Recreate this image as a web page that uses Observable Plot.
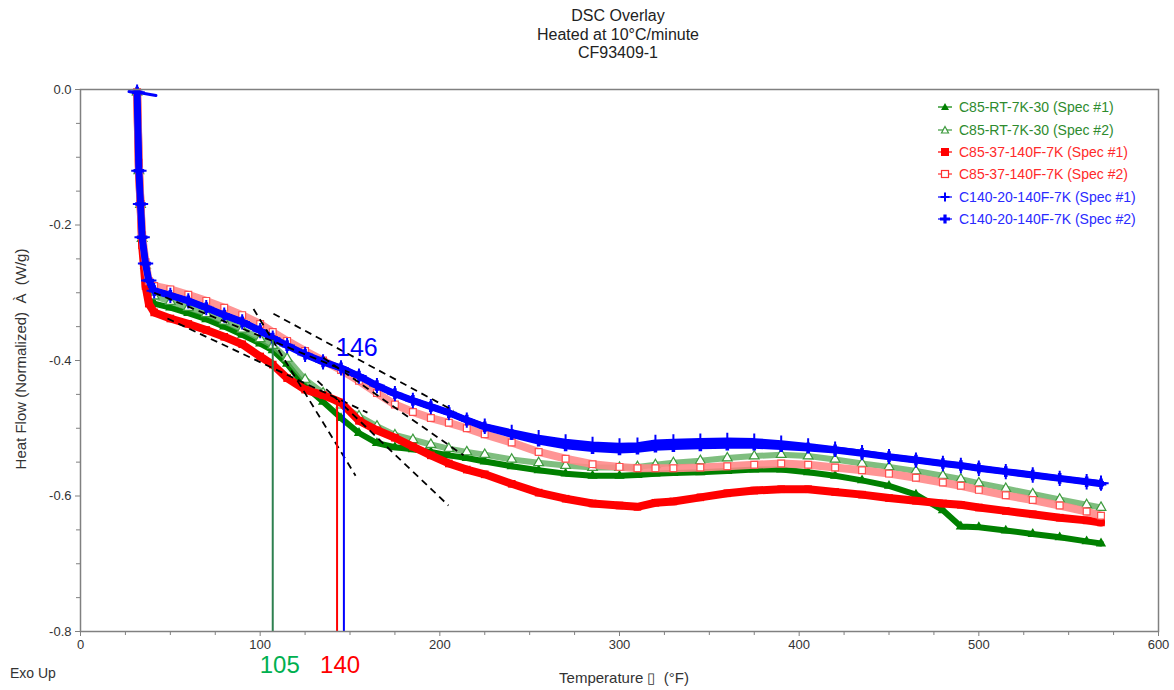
<!DOCTYPE html>
<html><head><meta charset="utf-8">
<script src="https://cdn.jsdelivr.net/npm/d3@7"></script>
<script src="https://cdn.jsdelivr.net/npm/@observablehq/plot@0.6"></script>
<style>
body{margin:0;background:#fff;font-family:"Liberation Sans",Arial,sans-serif;}
#wrap{position:relative;width:1174px;height:690px;overflow:hidden;background:#fff}
#title{position:absolute;left:468px;top:7px;width:300px;text-align:center;font-size:16px;line-height:18.5px;color:#222;}
#chart{position:absolute;left:0;top:66px;}
#legend{position:absolute;left:937px;top:96px;font-size:14px;}
#legend .row{height:22.4px;display:flex;align-items:center;white-space:nowrap}
#legend svg{margin-right:6px}
#exo{position:absolute;left:10px;top:665px;font-size:14px;color:#333}
#xlabel{position:absolute;left:474px;width:300px;top:669px;text-align:center;font-size:15px;color:#333;white-space:pre}
#ylabel{position:absolute;left:20px;top:359px;width:0;height:0;}
#ylabel span{position:absolute;transform:translate(-50%,-50%) rotate(-90deg);white-space:pre;font-size:15px;color:#333}
</style></head>
<body>
<div id="wrap">
<div id="title">DSC Overlay<br>Heated at 10°C/minute<br>CF93409-1</div>
<div id="chart"></div>
<div id="legend"></div>
<div id="exo">Exo Up</div>
<div id="xlabel"></div>
<div id="ylabel"><span></span></div>
</div>
<script>
// ---- data ----
const temps = [31.5,32.5,33.4,34.3,36.2,38,41,50,60,70,80,90,100,107,115,125,135,145,155,165,175,185,195,205,215,225,240,255,270,285,300,310,320,330,345,360,375,390,405,420,435,450,465,480,490,500,515,530,545,560,568];

const greenSpec1 = [-0.004,-0.12,-0.17,-0.22,-0.262,-0.300,
 -0.316,-0.322,-0.330,-0.339,-0.350,-0.362,-0.375,-0.385,
 -0.405,-0.438,-0.461,-0.485,-0.507,-0.522,-0.528,-0.531,-0.535,-0.540,-0.544,-0.549,
 -0.556,-0.562,-0.567,-0.570,-0.570,-0.569,-0.567,-0.566,-0.565,-0.563,-0.561,-0.561,
 -0.565,-0.570,-0.577,-0.585,-0.598,-0.621,-0.645,-0.646,-0.651,-0.656,-0.661,-0.667,-0.670];

const greenSpec2 = [-0.004,-0.12,-0.17,-0.22,-0.26,-0.29,
 -0.305,-0.313,-0.322,-0.331,-0.342,-0.354,-0.368,-0.378,
 -0.397,-0.428,-0.448,-0.466,-0.482,-0.497,-0.510,-0.517,-0.524,-0.530,-0.535,-0.539,
 -0.546,-0.551,-0.555,-0.558,-0.558,-0.557,-0.554,-0.551,-0.548,-0.544,-0.541,-0.539,
 -0.541,-0.546,-0.552,-0.557,-0.563,-0.570,-0.575,-0.581,-0.589,-0.597,-0.605,-0.613,-0.617];

const redSpec1 = [-0.004,-0.12,-0.169,-0.23,-0.29,-0.316,
 -0.329,-0.338,-0.346,-0.355,-0.365,-0.376,-0.394,-0.406,
 -0.426,-0.443,-0.451,-0.462,-0.489,-0.503,-0.514,-0.527,-0.540,-0.552,-0.561,-0.568,
 -0.582,-0.595,-0.604,-0.611,-0.614,-0.616,-0.610,-0.608,-0.602,-0.596,-0.592,-0.590,
 -0.590,-0.594,-0.598,-0.603,-0.607,-0.611,-0.613,-0.617,-0.622,-0.627,-0.632,-0.636,-0.639];

const redSpec2 = [-0.004,-0.108,-0.169,-0.215,-0.255,-0.283,
 -0.290,-0.295,-0.303,-0.312,-0.322,-0.333,-0.346,-0.358,
 -0.371,-0.386,-0.400,-0.414,-0.430,-0.448,-0.465,-0.476,-0.485,-0.492,-0.500,-0.509,
 -0.521,-0.535,-0.545,-0.553,-0.557,-0.559,-0.559,-0.559,-0.558,-0.556,-0.554,-0.552,
 -0.554,-0.558,-0.562,-0.567,-0.573,-0.580,-0.585,-0.591,-0.599,-0.606,-0.614,-0.623,-0.629];

const blueSpec1 = [-0.004,-0.12,-0.169,-0.218,-0.257,-0.282,
 -0.297,-0.304,-0.312,-0.322,-0.333,-0.343,-0.356,-0.367,
 -0.378,-0.391,-0.402,-0.411,-0.423,-0.437,-0.449,-0.459,-0.468,-0.477,-0.488,-0.497,
 -0.506,-0.514,-0.520,-0.524,-0.526,-0.525,-0.521,-0.520,-0.519,-0.518,-0.519,-0.522,
 -0.526,-0.531,-0.536,-0.542,-0.547,-0.552,-0.555,-0.559,-0.564,-0.569,-0.574,-0.579,-0.581];

const blueSpec2 = [-0.004,-0.12,-0.169,-0.218,-0.257,-0.282,
 -0.297,-0.304,-0.312,-0.322,-0.333,-0.343,-0.356,-0.367,
 -0.378,-0.391,-0.402,-0.411,-0.423,-0.437,-0.449,-0.459,-0.468,-0.477,-0.488,-0.498,
 -0.509,-0.519,-0.526,-0.530,-0.532,-0.531,-0.528,-0.527,-0.526,-0.525,-0.525,-0.527,
 -0.529,-0.532,-0.537,-0.542,-0.547,-0.552,-0.555,-0.559,-0.564,-0.569,-0.574,-0.579,-0.582];

// short stub of the blue run at the very start
const blueStubTemps = [27, 31.5, 42];
const blueStubValues = [-0.003, -0.004, -0.009];

const seriesNames = ["C85-RT-7K-30 (Spec #1)","C85-RT-7K-30 (Spec #2)","C85-37-140F-7K (Spec #1)","C85-37-140F-7K (Spec #2)","C140-20-140F-7K (Spec #1)","C140-20-140F-7K (Spec #2)"];

// tangent (onset construction) lines: start temp, start value, end temp, end value
const tangentT1 = [41, 48.4, 107.4, 96.3, 131.9, 135.2];
const tangentV1 = [-0.300, -0.338, -0.331, -0.324, -0.430, -0.396];
const tangentT2 = [150, 159.7, 207.6, 153.1, 204.8, 213.2];
const tangentV2 = [-0.418, -0.477, -0.474, -0.570, -0.614, -0.540];

// onset markers
const onsetT = [107, 142.8, 146.6];
const onsetTop = [-0.370, -0.459, -0.410];
const onsetLabels = ["105", "140", "146"];

const xMajorTicks = [0,100,200,300,400,500,600];
const xMinorTicks = [25,50,75,125,150,175,225,250,275,325,350,375,425,450,475,525,550,575];
const yMajorTicks = [0,-0.2,-0.4,-0.6,-0.8];
const yMinorTicks = [-0.05,-0.1,-0.15,-0.25,-0.3,-0.35,-0.45,-0.5,-0.55,-0.65,-0.7,-0.75];

const xLabel = "Temperature \u25AF  (°F)";
const yLabel = "Heat Flow (Normalized)  \u00C0  (W/g)";

// ---- styles ----
const styles = [
  {line:"#008000", lw:6, lineOp:1, symbol:"triangle", fill:"#008000", stroke:"none", r:3.8},
  {line:"#5fae5f", lw:6, lineOp:0.8, symbol:"triangle", fill:"white", stroke:"#3d9a3d", r:3.6},
  {line:"#ff0000", lw:8, lineOp:1, symbol:"square", fill:"#ff0000", stroke:"none", r:4.3},
  {line:"#ff8a8a", lw:8, lineOp:0.9, symbol:"square", fill:"white", stroke:"#ff5050", r:3.8},
  {line:"#0000ff", lw:6, lineOp:1, symbol:"plus", fill:"none", stroke:"#0000ff", r:5, sw:2},
  {line:"#0000ff", lw:7, lineOp:1, symbol:"cross", fill:"#0000ff", stroke:"none", r:4.5},
];
const seriesValues = [greenSpec1, greenSpec2, redSpec1, redSpec2, blueSpec1, blueSpec2];

const marks = [];
seriesValues.forEach((vals, k) => {
  const rows = temps.map((t, i) => ({T: t, v: vals[i]}));
  const st = styles[k];
  if (k === 5) {
    const stub = blueStubTemps.map((t, i) => ({T: t, v: blueStubValues[i]}));
    marks.push(Plot.line(stub, {x:"T", y:"v", stroke:st.line, strokeWidth:3}));
  }
  marks.push(Plot.line(rows, {x:"T", y:"v", stroke:st.line, strokeWidth:st.lw, strokeOpacity:st.lineOp, curve:"linear"}));
  marks.push(Plot.dot(rows, {x:"T", y:"v", symbol:st.symbol, r:st.r, fill:st.fill, stroke:st.stroke, strokeWidth:st.sw || 1.2}));
});

const tangents = tangentT1.map((t, i) => ({x1:t, y1:tangentV1[i], x2:tangentT2[i], y2:tangentV2[i]}));
const onsets = onsetT.map((t, i) => ({T:t, top:onsetTop[i], label:onsetLabels[i]}));
const ruleColors = ["#2e8050", "#ff0000", "#0000ff"];
const labelColors = ["#00b050", "#ff0000", "#0000ff"];
const labelFont = "'Liberation Sans', Arial, sans-serif";

const chart = Plot.plot({
  width:1174, height:624,
  marginTop:23, marginBottom:59, marginLeft:80, marginRight:16,
  x:{domain:[0,600]},
  y:{domain:[-0.8,0]},
  style:{fontFamily:"'Liberation Sans', Arial, sans-serif", fontSize:"13px", color:"#333", background:"white", overflow:"visible"},
  marks:[
    ...marks,
    Plot.link(tangents, {x1:"x1", y1:"y1", x2:"x2", y2:"y2", stroke:"black", strokeWidth:1.8, strokeDasharray:"7,5"}),
    ...onsets.map((o, i) => Plot.ruleX([o], {x:"T", y1:-0.8, y2:"top", stroke:ruleColors[i], strokeWidth:2})),
    Plot.text([onsets[0]], {x:"T", text:"label", frameAnchor:"bottom", dy:41, dx:7, fill:labelColors[0], fontSize:24, fontFamily:labelFont}),
    Plot.text([onsets[1]], {x:"T", text:"label", frameAnchor:"bottom", dy:41, dx:3, fill:labelColors[1], fontSize:24, fontFamily:labelFont}),
    Plot.text([onsets[2]], {x:"T", y:"top", text:"label", dy:-19, dx:13, fill:labelColors[2], fontSize:25, fontFamily:labelFont}),
    Plot.frame({stroke:"#808080", strokeWidth:1.5}),
    Plot.axisX(xMajorTicks, {tickSize:5, tickPadding:3, stroke:"#808080", fill:"#333", tickFormat:d => String(d), label:null}),
    Plot.axisX(xMinorTicks, {tickSize:4, stroke:"#808080", tickFormat:() => "", label:null}),
    Plot.axisY(yMajorTicks, {tickSize:5, tickPadding:4, stroke:"#808080", fill:"#333", tickFormat:d => d.toFixed(1), label:null}),
    Plot.axisY(yMinorTicks, {tickSize:4, stroke:"#808080", tickFormat:() => "", label:null}),
  ]
});
document.getElementById("chart").appendChild(chart);
document.getElementById("xlabel").textContent = xLabel;
document.querySelector("#ylabel span").textContent = yLabel;

// ---- legend ----
const legendColors = ["#2e8b2e","#2e8b2e","#ff2a2a","#ff2a2a","#2a2aff","#2a2aff"];
function markerSvg(k){
  const c = ["#008000","#3d9a3d","#ff0000","#ff3030","#0000ff","#0000ff"][k];
  let shape = "";
  if (k === 0) shape = `<path d="M8,2 L12,9 L4,9 Z" fill="${c}"/>`;
  if (k === 1) shape = `<path d="M8,2.5 L11.5,9 L4.5,9 Z" fill="white" stroke="${c}" stroke-width="1.2"/>`;
  if (k === 2) shape = `<rect x="4" y="2" width="8" height="8" fill="${c}"/>`;
  if (k === 3) shape = `<rect x="4.5" y="2.5" width="7" height="7" fill="white" stroke="${c}" stroke-width="1.2"/>`;
  if (k === 4) shape = `<path d="M8,1.5 V10.5 M3.5,6 H12.5" stroke="${c}" stroke-width="2"/>`;
  if (k === 5) shape = `<path d="M8,1.5 V10.5 M3,6 H13" stroke="${c}" stroke-width="3.2"/>`;
  return `<svg width="16" height="12" viewBox="0 0 16 12"><line x1="1" y1="6" x2="15" y2="6" stroke="${c}" stroke-width="1.2"/>${shape}</svg>`;
}
document.getElementById("legend").innerHTML = seriesNames.map((n, k) =>
  `<div class="row">${markerSvg(k)}<span style="color:${legendColors[k]}">${n}</span></div>`).join("");
</script>
</body></html>
